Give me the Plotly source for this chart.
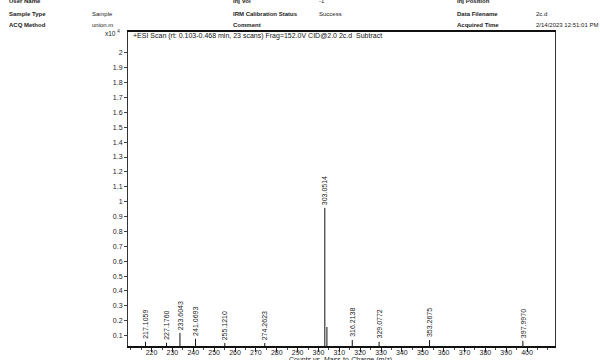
import plotly.graph_objects as go

# Centroided peaks: m/z and abundance (x10^4 counts)
mz_values = [217.1059, 227.1760, 233.6043, 241.0693, 255.1210, 274.2623,
             303.0514, 304.0548, 316.2138, 329.0772, 353.2675, 397.9970]
counts = [0.058, 0.052, 0.118, 0.078, 0.050, 0.050,
          0.958, 0.158, 0.070, 0.058, 0.070, 0.065]
labelled = [True, True, True, True, True, True,
            True, False, True, True, True, True]

x_major = list(range(220, 401, 10))
y_ticks = [round(0.1 * i, 1) for i in range(1, 21)]

header_rows = [
    [("User Name", True), ("", False), ("Inj Vol", True), ("-1", False),
     ("Inj Position", True), ("", False)],
    [("Sample Type", True), ("Sample", False), ("IRM Calibration Status", True),
     ("Success", False), ("Data Filename", True), ("2c.d", False)],
    [("ACQ Method", True), ("union.m", False), ("Comment", True), ("", False),
     ("Acquired Time", True), ("2/14/2023 12:51:01 PM", False)],
]
header_cols = [7, 90, 231, 317, 455, 534]
header_rows_y = [1, 14, 25]

scan_title = "+ESI Scan (rt: 0.103-0.468 min, 23 scans) Frag=152.0V CID@2.0 2c.d  Subtract"
x_title = "Counts vs. Mass-to-Charge (m/z)"

W, H = 600, 360
L, R, T, B = 128, 555, 32, 346
FONT = "Liberation Sans, Arial, sans-serif"


def px(xp):
    return (xp - L) / (R - L)


def py(yp):
    return (B - yp) / (B - T)


# stick spectrum as vertical line segments
xs, ys = [], []
for m, c in zip(mz_values, counts):
    xs += [m, m, None]
    ys += [0, c, None]

fig = go.Figure()
fig.add_trace(go.Scatter(x=xs, y=ys, mode="lines",
                         line=dict(color="#111111", width=1),
                         hoverinfo="skip", showlegend=False))

annotations = []
for m, c, lab in zip(mz_values, counts, labelled):
    if not lab:
        continue
    annotations.append(dict(
        x=m, y=c, xref="x", yref="y", text=f"{m:.4f}", textangle=-90,
        showarrow=False, xanchor="center", yanchor="bottom", yshift=1,
        font=dict(family=FONT, size=7, color="#1a1a1a")))

for r, row in enumerate(header_rows):
    for (txt, bold), xc in zip(row, header_cols):
        if not txt:
            continue
        annotations.append(dict(
            x=px(xc), y=py(header_rows_y[r]), xref="paper", yref="paper",
            text=f"<b>{txt}</b>" if bold else txt, showarrow=False,
            xanchor="left", yanchor="middle",
            font=dict(family=FONT, size=6, color="#222222")))

annotations.append(dict(
    x=px(131), y=py(36), xref="paper", yref="paper", text=scan_title,
    showarrow=False, xanchor="left", yanchor="middle",
    font=dict(family=FONT, size=7, color="#111111")))
annotations.append(dict(
    x=px(122), y=py(33), xref="paper", yref="paper",
    text="x10 <sup>4</sup>", showarrow=False, xanchor="right", yanchor="middle",
    font=dict(family=FONT, size=6.5, color="#222222")))
annotations.append(dict(
    x=px(340), y=py(359.5), xref="paper", yref="paper", text=x_title,
    showarrow=False, xanchor="center", yanchor="middle",
    font=dict(family=FONT, size=7, color="#222222")))

fig.update_layout(
    width=W, height=H,
    margin=dict(l=L, r=W - R, t=T, b=H - B, autoexpand=False),
    paper_bgcolor="white", plot_bgcolor="white",
    annotations=annotations,
    xaxis=dict(
        range=[208.7, 413.4], tickvals=x_major,
        ticktext=[str(v) for v in x_major],
        ticks="outside", ticklen=4, tickwidth=1, tickcolor="#222",
        ticklabelstandoff=-5,
        minor=dict(dtick=5, tick0=0, ticks="outside", ticklen=2, tickcolor="#444"),
        showgrid=False, zeroline=False, automargin=False,
        showline=True, linecolor="#111", linewidth=1.5, mirror=True,
        tickfont=dict(family=FONT, size=7, color="#222")),
    yaxis=dict(
        range=[0.03, 2.14], tickvals=y_ticks,
        ticktext=[f"{v:g}" for v in y_ticks],
        ticks="outside", ticklen=3, tickwidth=1, tickcolor="#444",
        showgrid=False, zeroline=False, automargin=False,
        showline=True, linecolor="#333", linewidth=1, mirror=True,
        tickfont=dict(family=FONT, size=7, color="#222")),
)

fig.write_html("out.html")
